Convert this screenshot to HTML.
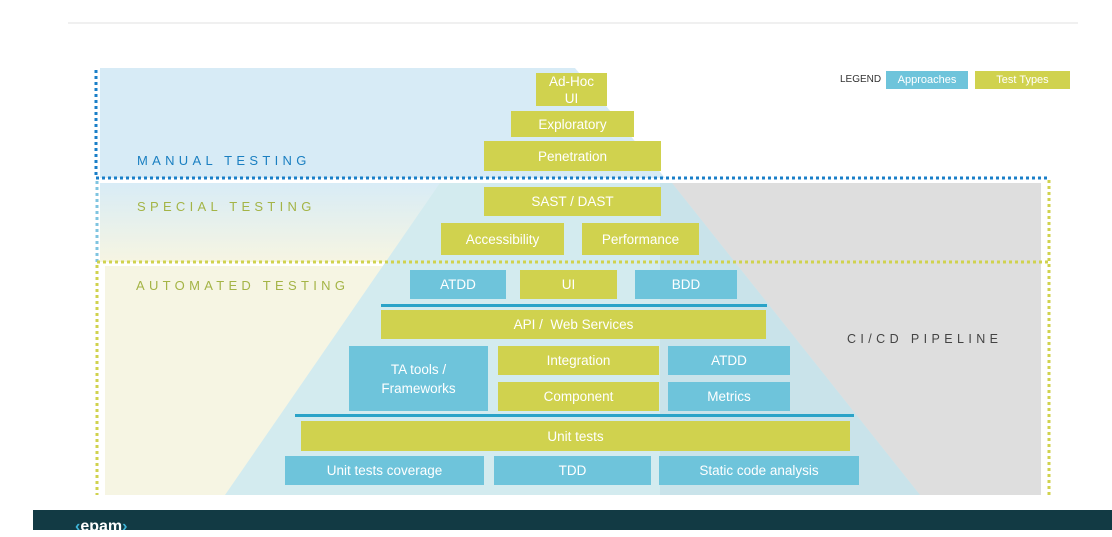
<!DOCTYPE html>
<html><head><meta charset="utf-8"><style>
body{margin:0;width:1112px;height:530px;background:#fff;position:relative;overflow:hidden;font-family:"Liberation Sans",sans-serif}
.a{position:absolute}
.b{position:absolute;color:#fff;font-size:13.5px;display:flex;align-items:center;justify-content:center;text-align:center;line-height:19px}
.y{background:#d0d24e}.c{background:#6ec4db}
.lab{position:absolute;font-size:13px;letter-spacing:4.3px}
</style></head><body>
<div class="a" style="left:68px;top:22px;width:1010px;height:2px;background:#f0f0f0"></div>
<svg class="a" style="left:0;top:0" width="1112" height="530">
<defs><linearGradient id="g" x1="0" y1="0" x2="0" y2="1"><stop offset="0" stop-color="#d8ecf6"/><stop offset="1" stop-color="#f6f5e2"/></linearGradient></defs>
<polygon points="100,68 575,68 665,178 100,178" fill="#d7ebf6"/>
<rect x="100" y="183" width="580" height="79" fill="url(#g)"/>
<rect x="105" y="266" width="560" height="229" fill="#f6f5e3"/>
<rect x="660" y="183" width="381" height="312" fill="#dedede"/>
<polygon points="440,183 672,183 920,495 225,495" fill="#d3ebef"/>
<polygon points="660,183 672,183 920,495 660,495" fill="#c9e3ea"/>
<line x1="96" y1="70" x2="96" y2="178" stroke="#1a7fc8" stroke-width="3" stroke-dasharray="3,3"/>
<line x1="96" y1="178" x2="1048" y2="178" stroke="#1a7fc8" stroke-width="3" stroke-dasharray="3,3"/>
<line x1="97" y1="181" x2="97" y2="262" stroke="#7fc4e0" stroke-width="3" stroke-dasharray="3,3"/>
<line x1="97" y1="262" x2="1048" y2="262" stroke="#d0d24e" stroke-width="3" stroke-dasharray="3,3"/>
<line x1="97" y1="265" x2="97" y2="495" stroke="#d0d24e" stroke-width="3" stroke-dasharray="3,3"/>
<line x1="1049" y1="180" x2="1049" y2="495" stroke="#d0d24e" stroke-width="3" stroke-dasharray="3,3"/>
</svg>
<div class="lab" style="left:137px;top:153px;color:#1a7fc1">MANUAL TESTING</div>
<div class="lab" style="left:137px;top:199px;color:#a4b446">SPECIAL TESTING</div>
<div class="lab" style="left:136px;top:278px;color:#a4b446">AUTOMATED TESTING</div>
<div class="lab" style="left:847px;top:332px;color:#444;font-size:12.5px;letter-spacing:4.4px">CI/CD PIPELINE</div>
<div class="a" style="left:840px;top:74px;font-size:10px;color:#333">LEGEND</div>
<div class="b c" style="left:886px;top:71px;width:82px;height:18px;font-size:11px">Approaches</div>
<div class="b y" style="left:975px;top:71px;width:95px;height:18px;font-size:11px">Test Types</div>
<div class="b y" style="left:536px;top:73px;width:71px;height:33px;line-height:17px">Ad-Hoc<br>UI</div>
<div class="b y" style="left:511px;top:111px;width:123px;height:26px">Exploratory</div>
<div class="b y" style="left:484px;top:141px;width:177px;height:30px">Penetration</div>
<div class="b y" style="left:484px;top:187px;width:177px;height:29px">SAST / DAST</div>
<div class="b y" style="left:441px;top:223px;width:123px;height:32px">Accessibility</div>
<div class="b y" style="left:582px;top:223px;width:117px;height:32px">Performance</div>
<div class="b c" style="left:410px;top:270px;width:96px;height:29px">ATDD</div>
<div class="b y" style="left:520px;top:270px;width:97px;height:29px">UI</div>
<div class="b c" style="left:635px;top:270px;width:102px;height:29px">BDD</div>
<div class="a" style="left:381px;top:304px;width:386px;height:3px;background:#2aa3c8"></div>
<div class="b y" style="left:381px;top:310px;width:385px;height:29px">API /&nbsp; Web Services</div>
<div class="b c" style="left:349px;top:346px;width:139px;height:65px">TA tools /<br>Frameworks</div>
<div class="b y" style="left:498px;top:346px;width:161px;height:29px">Integration</div>
<div class="b y" style="left:498px;top:382px;width:161px;height:29px">Component</div>
<div class="b c" style="left:668px;top:346px;width:122px;height:29px">ATDD</div>
<div class="b c" style="left:668px;top:382px;width:122px;height:29px">Metrics</div>
<div class="a" style="left:295px;top:414px;width:559px;height:3px;background:#2aa3c8"></div>
<div class="b y" style="left:301px;top:421px;width:549px;height:30px">Unit tests</div>
<div class="b c" style="left:285px;top:456px;width:199px;height:29px">Unit tests coverage</div>
<div class="b c" style="left:494px;top:456px;width:157px;height:29px">TDD</div>
<div class="b c" style="left:659px;top:456px;width:200px;height:29px">Static code analysis</div>
<div class="a" style="left:33px;top:510px;width:1079px;height:20px;background:#123a44"></div>
<div class="a" style="left:75px;top:517px;color:#fff;font-size:16px;font-weight:bold;line-height:20px"><span style="color:#3fb5d8">‹</span>epam<span style="color:#3fb5d8">›</span></div>
</body></html>
